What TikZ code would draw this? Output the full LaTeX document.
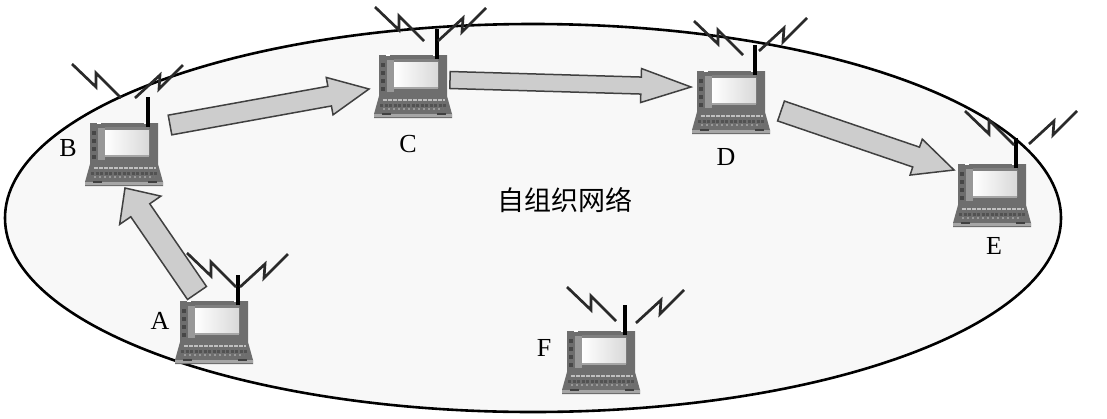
\documentclass[tikz,border=0pt]{standalone}
\usepackage{fontspec}
\setmainfont{Liberation Serif}
\newfontfamily\cjkfont{Noto Sans CJK SC}
\usepackage{tikz}
\usetikzlibrary{calc}
\definecolor{netfill}{HTML}{F8F8F8}
\definecolor{bodygrey}{HTML}{6E6E6E}
\definecolor{arrowgrey}{HTML}{CDCDCD}
\definecolor{boltgrey}{HTML}{2A2A2A}
\tikzset{
  netline/.style={line width=2.6pt, fill=netfill},
  bolt/.style={boltgrey, line width=2.7pt, line join=miter},
  antenna/.style={line width=4.5pt},
  flow/.style={draw=black!75, line width=1.5pt, fill=arrowgrey, line join=miter},
  nodetext/.style={inner sep=0pt, font=\fontsize{26}{26}\selectfont},
  laptopbox/.style={inner sep=0pt, minimum width=78pt, minimum height=63pt}
}
% drawn around the centre of a laptop
\newcommand{\laptop}{
  \fill[bodygrey] (-34,-32) -- (34,-32) -- (34,9) -- (39,27) -- (39,31) -- (-39,31) -- (-39,27) -- (-34,9) -- cycle;
  \fill[black!40] (-26,-27) rectangle (-19,5);
  \fill[left color=white, right color=black!15] (-19,-26) rectangle (25,0);
  \fill[black!50] (-19,-28) rectangle (25,-25);
  \fill[black!35] (-19,0) rectangle (25,2);
  \foreach \k in {-24,-16,-8,0} {
    \fill[black!72] (-32,\k) rectangle (-28,\k+4);
  }
  \draw[white!75!black, line width=2.2pt, dash pattern=on 4pt off 1pt] (-30,13) -- (32,13);
  \draw[black!68, line width=3pt, dash pattern=on 3pt off 1.5pt] (-33,18) -- (33,18);
  \draw[black!40, line width=1.5pt, dash pattern=on 2pt off 3pt] (-30,22) -- (30,22);
  \fill[black!35] (-39,27) rectangle (39,30);
  \fill[black!75] (-31,26) rectangle (-22,28);
  \fill[black!75] (24,26) rectangle (33,28);
  \fill[white] (-27,-33) rectangle (-23,-31);
  \fill[white] (20,-33) rectangle (24,-31);
  \draw[antenna] (24,-28) -- (24,-58);
}
\newcommand{\blockarrow}[5]{
  \coordinate (neck) at ($(#2)!#5!(#1)$);
  \draw[flow] ($(#1)!#3!90:(#2)$) -- ($(neck)!#3!-90:(#1)$) -- ($(neck)!#4!-90:(#1)$) -- (#2)
    -- ($(neck)!#4!90:(#1)$) -- ($(neck)!#3!90:(#1)$) -- ($(#1)!#3!-90:(#2)$) -- cycle;
}
\begin{document}
\begin{tikzpicture}[x=1pt,y=-1pt]
  \useasboundingbox (0,0) rectangle (1107,418);
  \draw[netline] (533,218) ellipse [x radius=528, y radius=194];
  % name/centre/left bolt/right bolt/letter
  \foreach \n/\x/\y/\lx/\ly/\rx/\ry/\tx/\ty in {
    A/214/333/187/253/240/287/160/321,
    B/124/155/72/64/135/98/68/148,
    C/413/87/375/7/438/41/408/144,
    D/731/103/694/21/759/51/726/157,
    E/992/196/965/111/1029/144/994/246,
    F/601/363/567/287/636/323/544/348} {
    \node[laptopbox] (\n) at (\x,\y) {};
    \begin{scope}[shift={(\n)}]
      \laptop
    \end{scope}
    \draw[bolt] (\lx,\ly) -- ++(24,23) -- ++(0,-14) -- ++(25,25);
    \draw[bolt] (\rx,\ry) -- ++(25,-23) -- ++(-1,14) -- ++(24,-24);
    \node[nodetext] (\n-text) at (\tx,\ty) {\n};
  }
  \coordinate (ab-tail) at (197,293);
  \coordinate (ab-tip) at (125,188);
  \coordinate (bc-tail) at (170,125);
  \coordinate (bc-tip) at (369,89);
  \coordinate (cd-tail) at (450,80);
  \coordinate (cd-tip) at (691,87);
  \coordinate (de-tail) at (781,111);
  \coordinate (de-tip) at (954,170);
  \blockarrow{ab-tail}{ab-tip}{11.5pt}{25pt}{27pt}
  \blockarrow{bc-tail}{bc-tip}{10pt}{19pt}{40pt}
  \blockarrow{cd-tail}{cd-tip}{8.5pt}{17pt}{50pt}
  \blockarrow{de-tail}{de-tip}{10.5pt}{19pt}{40pt}
  \node[inner sep=0pt, font=\cjkfont\fontsize{27}{27}\selectfont] (net) at (565,200) {自组织网络};
\end{tikzpicture}
\end{document}
